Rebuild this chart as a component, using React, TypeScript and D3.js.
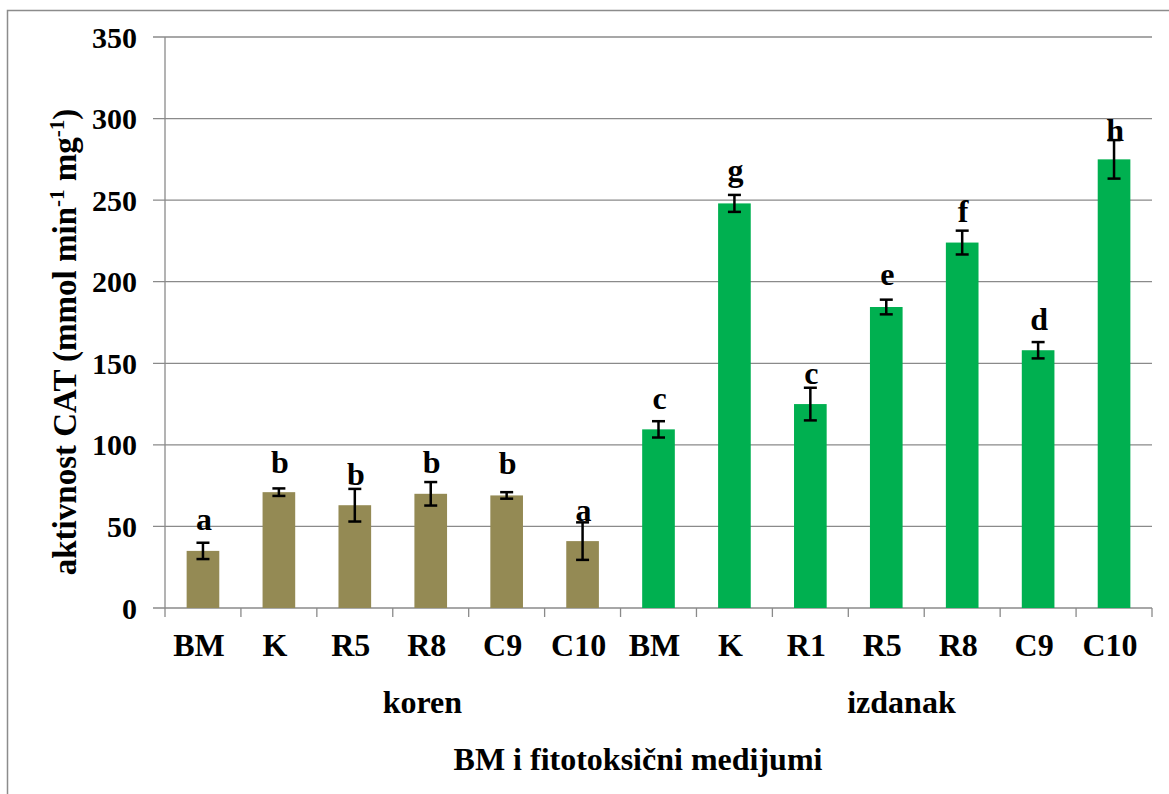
import { useEffect, useRef } from 'react'
import * as d3 from 'd3'

// koren (root) samples
const korenCats = ['BM', 'K', 'R5', 'R8', 'C9', 'C10']
const korenValues = [35, 71, 63, 70, 69, 41]
const korenErrors = [5, 2.3, 10, 7.2, 2, 11.5]
const korenLetters = ['a', 'b', 'b', 'b', 'b', 'a']
const korenLetterAt = [47.7, 82.8, 75.3, 82.6, 82, 53.2]

// izdanak (shoot) samples
const izdanakCats = ['BM', 'K', 'R1', 'R5', 'R8', 'C9', 'C10']
const izdanakValues = [109.5, 248, 125, 184.5, 224, 158, 275]
const izdanakErrors = [5, 5.2, 10, 4.5, 7.3, 5, 11.8]
const izdanakLetters = ['c', 'g', 'c', 'e', 'f', 'd', 'h']
const izdanakLetterAt = [121.8, 262, 137.5, 198, 236.4, 170.5, 286.4]

const yTicks = [0, 50, 100, 150, 200, 250, 300, 350]
const groupNames = ['koren', 'izdanak']
const groupCenters = [3.39, 9.7] // in category units, as placed in the original

const colors = { koren: '#948a54', izdanak: '#00b050', grid: '#8a8a8a' }
const FONT = "'Liberation Serif', 'Times New Roman', Tinos, 'DejaVu Serif', serif"

function App() {
  const svgRef = useRef(null)
  const width = 1169
  const height = 794
  const margin = { left: 165, right: 17, top: 37, bottom: 186 }

  useEffect(() => {
    const svg = d3.select(svgRef.current)
    svg.selectAll('*').remove()
    svg.style('font-family', FONT).style('font-weight', 'bold')

    const rows = [
      ...korenCats.map((c, i) => ({ cat: c, value: korenValues[i], err: korenErrors[i], letter: korenLetters[i], at: korenLetterAt[i], group: 'koren' })),
      ...izdanakCats.map((c, i) => ({ cat: c, value: izdanakValues[i], err: izdanakErrors[i], letter: izdanakLetters[i], at: izdanakLetterAt[i], group: 'izdanak' })),
    ]
    rows.forEach((r: any, i) => r.idx = i)

    const x0 = margin.left
    const x1 = width - margin.right
    const yBottom = height - margin.bottom
    const x = d3.scaleBand().domain(rows.map((r: any) => r.idx)).range([x0, x1]).paddingInner(0.57).paddingOuter(0.285)
    const xLin = d3.scaleLinear().domain([0, rows.length]).range([x0, x1])
    const y = d3.scaleLinear().domain([0, 350]).range([yBottom, margin.top])

    // outer frame (left + top visible)
    svg.append('path')
      .attr('d', `M7.5,${height + 5} L7.5,10.5 L${width + 5},10.5`)
      .attr('fill', 'none').attr('stroke', '#8c8c8c').attr('stroke-width', 1.5)

    // gridlines + y ticks
    svg.append('g').selectAll('line.grid')
      .data(yTicks)
      .join('line')
      .attr('class', 'grid')
      .attr('x1', x0 - 12).attr('x2', x1)
      .attr('y1', d => y(d)).attr('y2', d => y(d))
      .attr('stroke', colors.grid).attr('stroke-width', 1.3)

    svg.append('g').selectAll('text.ytick')
      .data(yTicks)
      .join('text')
      .attr('class', 'ytick')
      .attr('x', 137).attr('y', d => y(d))
      .attr('dy', '0.35em')
      .attr('text-anchor', 'end')
      .style('font-size', '30px')
      .text(d => d)

    // y axis line
    svg.append('line')
      .attr('x1', x0).attr('x2', x0).attr('y1', y(350)).attr('y2', yBottom)
      .attr('stroke', colors.grid).attr('stroke-width', 1.3)

    // x ticks at category boundaries
    svg.append('g').selectAll('line.xtick')
      .data(d3.range(rows.length + 1))
      .join('line')
      .attr('class', 'xtick')
      .attr('x1', d => xLin(d)).attr('x2', d => xLin(d))
      .attr('y1', yBottom).attr('y2', yBottom + 9)
      .attr('stroke', colors.grid).attr('stroke-width', 1.3)

    // bars
    svg.append('g').selectAll('rect.bar')
      .data(rows)
      .join('rect')
      .attr('class', 'bar')
      .attr('x', (d: any) => x(d.idx))
      .attr('y', (d: any) => y(d.value))
      .attr('width', x.bandwidth())
      .attr('height', (d: any) => yBottom - y(d.value))
      .attr('fill', (d: any) => colors[d.group])

    // error bars
    const eb = svg.append('g').selectAll('g.err')
      .data(rows)
      .join('g')
      .attr('class', 'err')
      .attr('stroke', '#000').attr('stroke-width', 2.5)
    const cx = (d: any) => x(d.idx) + x.bandwidth() / 2
    eb.append('line')
      .attr('x1', cx).attr('x2', cx)
      .attr('y1', (d: any) => y(d.value + d.err)).attr('y2', (d: any) => y(d.value - d.err))
    eb.append('line')
      .attr('x1', (d: any) => cx(d) - 6.5).attr('x2', (d: any) => cx(d) + 6.5)
      .attr('y1', (d: any) => y(d.value + d.err)).attr('y2', (d: any) => y(d.value + d.err))
    eb.append('line')
      .attr('x1', (d: any) => cx(d) - 6.5).attr('x2', (d: any) => cx(d) + 6.5)
      .attr('y1', (d: any) => y(d.value - d.err)).attr('y2', (d: any) => y(d.value - d.err))

    // significance letters
    svg.append('g').selectAll('text.letter')
      .data(rows)
      .join('text')
      .attr('class', 'letter')
      .attr('x', (d: any) => cx(d) + 1)
      .attr('y', (d: any) => y(d.at))
      .attr('text-anchor', 'middle')
      .style('font-size', '32px')
      .text((d: any) => d.letter)

    // category labels
    svg.append('g').selectAll('text.cat')
      .data(rows)
      .join('text')
      .attr('class', 'cat')
      .attr('x', (d: any) => cx(d) - 4)
      .attr('y', 656)
      .attr('text-anchor', 'middle')
      .style('font-size', '32px')
      .text((d: any) => d.cat)

    // group labels
    svg.append('g').selectAll('text.group')
      .data(groupNames)
      .join('text')
      .attr('class', 'group')
      .attr('x', (d, i) => xLin(groupCenters[i]))
      .attr('y', 713)
      .attr('text-anchor', 'middle')
      .style('font-size', '32px')
      .text(d => d)

    // x title
    svg.append('text')
      .attr('x', 638).attr('y', 770)
      .attr('text-anchor', 'middle')
      .style('font-size', '32px')
      .text('BM i fitotoksični medijumi')

    // y title with superscripts
    const yt = svg.append('text')
      .attr('transform', 'translate(76, 342) rotate(-90)')
      .attr('text-anchor', 'middle')
      .style('font-size', '33px')
    yt.append('tspan').text('aktivnost CAT (mmol min')
    yt.append('tspan').style('font-size', '21px').attr('dy', -12).text('-1')
    yt.append('tspan').attr('dy', 12).text(' mg')
    yt.append('tspan').style('font-size', '21px').attr('dy', -12).text('-1')
    yt.append('tspan').attr('dy', 12).text(')')
  }, [])

  return (
    <div style={{ position: 'absolute', left: 0, top: 0 }}>
      <svg ref={svgRef} width={width} height={height} style={{ display: 'block', background: '#fff' }}></svg>
    </div>
  )
}

export default App
